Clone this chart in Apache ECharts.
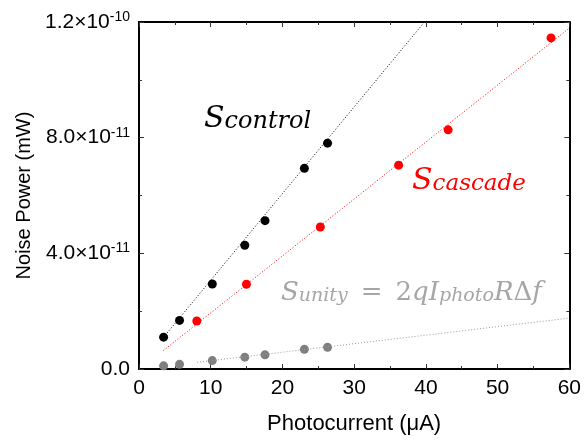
<!DOCTYPE html>
<html>
<head>
<meta charset="utf-8">
<script src="https://cdn.jsdelivr.net/npm/echarts@6/dist/echarts.min.js"></script>
<style>
  html, body { margin: 0; padding: 0; background: #fff; }
  #main { width: 584px; height: 440px; }
</style>
</head>
<body>
<div id="main"></div>
<script>
// photocurrent (uA) and noise power (mW)
var controlX = [3.43, 5.65, 10.22, 14.75, 17.57, 23.06, 26.29];
var controlY = [11.0e-12, 16.8e-12, 29.4e-12, 42.8e-12, 51.3e-12, 69.4e-12, 78.1e-12];
var cascadeX = [8.06, 14.98, 25.28, 36.2, 43.1, 57.45];
var cascadeY = [16.6e-12, 29.3e-12, 49.1e-12, 70.5e-12, 82.7e-12, 114.5e-12];
var unityX = [3.43, 5.65, 10.22, 14.75, 17.57, 23.06, 26.29];
var unityY = [1.1e-12, 1.6e-12, 2.9e-12, 4.1e-12, 4.9e-12, 6.8e-12, 7.5e-12];
// dotted linear fits (end points)
var controlFit = [[3.4, 10.9e-12], [39.8, 120e-12]];
var cascadeFit = [[3.4, 6.4e-12], [60, 117.9e-12]];
var unityFit = [[8.1, 2.3e-12], [60, 17.6e-12]];
var xTicks = { min: 0, max: 60, interval: 10 };
var yTicks = { min: 0, max: 1.2e-10, interval: 4e-11 };

function pairs(xs, ys) {
    return xs.map(function (x, i) { return [x, ys[i]]; });
}

function sciLabel(v) {
    if (v === 0) return '{b|0.0}';
    var e = Math.floor(Math.log10(v) + 1e-9);
    var m = v / Math.pow(10, e);
    return '{b|' + m.toFixed(1) + '×10}{s|' + e + '}';
}

var myChart = echarts.init(document.getElementById('main'));

var axisLine = { show: true, onZero: false, lineStyle: { color: '#000', width: 2 } };
var tick = { show: true, inside: true, length: 5, lineStyle: { color: '#333', width: 1 } };
var minor = { show: true, splitNumber: 2, length: 3, lineStyle: { color: '#333', width: 1 } };
var serif = 'DejaVu Serif';
var grayText = '#a6a6a6';

option = {
    backgroundColor: '#fff',
    animation: false,
    grid: { left: 139, right: 12, top: 22, bottom: 71 },
    xAxis: [{
        type: 'value',
        min: xTicks.min, max: xTicks.max, interval: xTicks.interval,
        name: 'Photocurrent (μA)',
        nameLocation: 'middle',
        nameGap: 44,
        nameTextStyle: { fontFamily: 'Liberation Sans', fontSize: 22, color: '#000' },
        axisLine: axisLine,
        axisTick: tick,
        minorTick: minor,
        splitLine: { show: false },
        axisLabel: { fontFamily: 'Liberation Sans', fontSize: 21, color: '#000', margin: 9 }
    }, {
        type: 'value', position: 'top',
        min: xTicks.min, max: xTicks.max, interval: xTicks.interval,
        axisLine: axisLine, axisTick: tick, minorTick: minor,
        splitLine: { show: false }, axisLabel: { show: false }
    }],
    yAxis: [{
        type: 'value',
        min: yTicks.min, max: yTicks.max, interval: yTicks.interval,
        name: 'Noise Power (mW)',
        nameLocation: 'middle',
        nameGap: 100,
        nameTextStyle: { fontFamily: 'Liberation Sans', fontSize: 20, color: '#000' },
        axisLine: axisLine,
        axisTick: tick,
        minorTick: minor,
        splitLine: { show: false },
        axisLabel: {
            margin: 9,
            formatter: sciLabel,
            rich: {
                b: { fontFamily: 'Liberation Sans', fontSize: 21, color: '#000', lineHeight: 24 },
                s: { fontFamily: 'Liberation Sans', fontSize: 14, color: '#000', lineHeight: 14, verticalAlign: 'top' }
            }
        }
    }, {
        type: 'value', position: 'right',
        min: yTicks.min, max: yTicks.max, interval: yTicks.interval,
        axisLine: axisLine, axisTick: tick, minorTick: minor,
        splitLine: { show: false }, axisLabel: { show: false }
    }],
    graphic: [{
        type: 'text', left: 204, top: 104,
        style: {
            text: '{S|S}{sub|control}',
            rich: {
                S: { fontFamily: serif, fontStyle: 'italic', fontSize: 30, lineHeight: 30, fill: '#000' },
                sub: { fontFamily: serif, fontStyle: 'italic', fontSize: 24, lineHeight: 6, verticalAlign: 'bottom', fill: '#000' }
            }
        }
    }, {
        type: 'text', left: 412, top: 166,
        style: {
            text: '{S|S}{sub|cascade}',
            rich: {
                S: { fontFamily: serif, fontStyle: 'italic', fontSize: 30, lineHeight: 30, fill: '#ff0000' },
                sub: { fontFamily: serif, fontStyle: 'italic', fontSize: 23, lineHeight: 6, verticalAlign: 'bottom', fill: '#ff0000' }
            }
        }
    }, {
        type: 'text', left: 281, top: 280,
        style: {
            text: '{S|S}{sub|unity}{r|\u2002=\u20022}{S|qI}{sub|photo}{S|R}{r|Δ}{S|f}',
            rich: {
                S: { fontFamily: serif, fontStyle: 'italic', fontSize: 26, lineHeight: 26, fill: grayText },
                r: { fontFamily: serif, fontSize: 26, lineHeight: 26, fill: grayText },
                sub: { fontFamily: serif, fontStyle: 'italic', fontSize: 19, lineHeight: 10, verticalAlign: 'bottom', fill: grayText }
            }
        }
    }],
    series: [{
        type: 'line', data: controlFit, showSymbol: false, silent: true,
        lineStyle: { color: '#000', width: 1, type: [1, 2] }
    }, {
        type: 'line', data: cascadeFit, showSymbol: false, silent: true,
        lineStyle: { color: '#ff0000', width: 1, type: [1, 2] }
    }, {
        type: 'line', data: unityFit, showSymbol: false, silent: true,
        lineStyle: { color: '#9a9a9a', width: 1, type: [1, 2] }
    }, {
        type: 'scatter', data: pairs(controlX, controlY), symbolSize: 9,
        itemStyle: { color: '#000', opacity: 1 }
    }, {
        type: 'scatter', data: pairs(cascadeX, cascadeY), symbolSize: 9,
        itemStyle: { color: '#ff0000', opacity: 1 }
    }, {
        type: 'scatter', data: pairs(unityX, unityY), symbolSize: 9,
        itemStyle: { color: '#7f7f7f', opacity: 1 }
    }]
};

myChart.setOption(option);
</script>
</body>
</html>
